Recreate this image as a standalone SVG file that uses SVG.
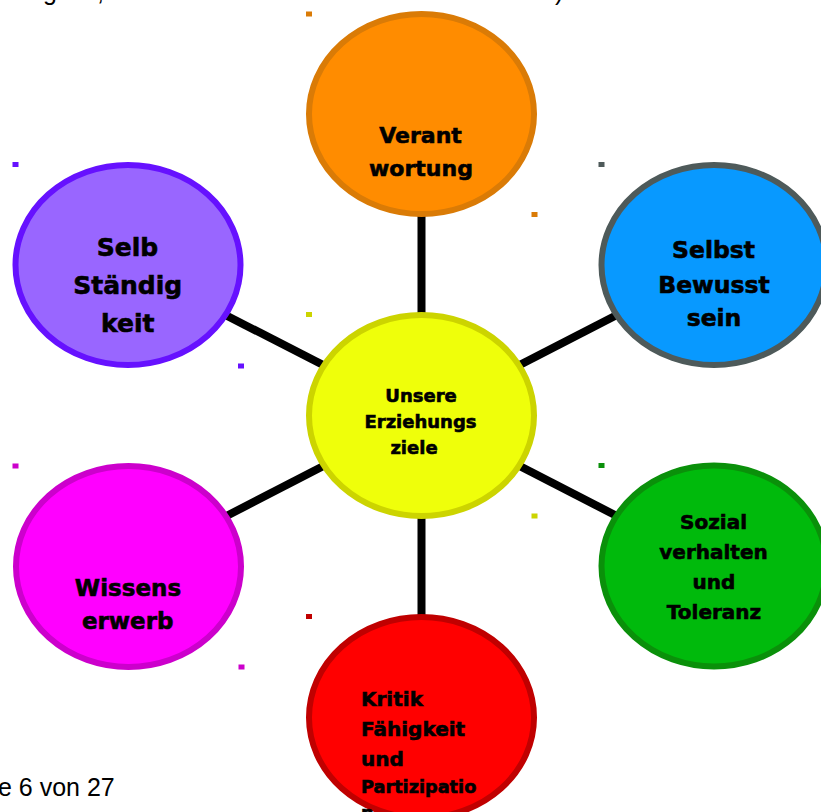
<svg xmlns="http://www.w3.org/2000/svg" width="821" height="812" viewBox="0 0 821 812">
<style>
.lbl{font-family:"DejaVu Sans","Liberation Sans",sans-serif;font-weight:bold;fill:#000;stroke:#000;stroke-width:0.6;text-anchor:middle}
.pg{font-family:"Liberation Sans",Arial,sans-serif;fill:#000;font-size:25px}
.node ellipse{stroke-width:6}
#connectors line{stroke:#000;stroke-width:8}
</style>
<rect width="821" height="812" fill="#fff"/>
<text class="pg" x="43" y="0">g</text>
<text class="pg" x="97" y="0">,</text>
<text class="pg" x="555" y="0">)</text>
<text class="pg" x="-2" y="796">e 6 von 27</text>
<g id="connectors">
<line x1="421.5" y1="415.5" x2="421.5" y2="114"/>
<line x1="421.5" y1="415.5" x2="421.5" y2="717"/>
<line x1="421.5" y1="415.5" x2="128" y2="265"/>
<line x1="421.5" y1="415.5" x2="714" y2="265"/>
<line x1="421.5" y1="415.5" x2="128.5" y2="566.5"/>
<line x1="421.5" y1="415.5" x2="714" y2="566"/>
</g>
<g id="node-verantwortung" class="node">
<ellipse cx="421.5" cy="114" rx="112.5" ry="100" fill="#FF8C00" stroke="#DA7B06"/>
<rect x="306" y="11.5" width="6" height="5" fill="#DA7B06"/>
<rect x="531.5" y="212" width="6" height="5" fill="#DA7B06"/>
<text class="lbl" font-size="22" x="420.5" y="143">Verant</text>
<text class="lbl" font-size="22" x="421" y="176">wortung</text>
</g>
<g id="node-selbstbewusstsein" class="node">
<ellipse cx="714" cy="265" rx="112.5" ry="100" fill="#0899FF" stroke="#4E5A5A"/>
<rect x="598.5" y="162" width="6" height="5" fill="#4E5A5A"/>
<text class="lbl" font-size="23.5" x="713.5" y="258">Selbst</text>
<text class="lbl" font-size="23.5" x="714" y="293">Bewusst</text>
<text class="lbl" font-size="23.5" x="714" y="326">sein</text>
</g>
<g id="node-selbstaendigkeit" class="node">
<ellipse cx="128" cy="265" rx="112.5" ry="100" fill="#9966FF" stroke="#6611FF"/>
<rect x="12.5" y="162" width="6" height="5" fill="#6611FF"/>
<rect x="238" y="363.5" width="6" height="5" fill="#6611FF"/>
<text class="lbl" font-size="25" x="127.5" y="256">Selb</text>
<text class="lbl" font-size="25" x="127.7" y="294">Ständig</text>
<text class="lbl" font-size="25" x="127.7" y="332">keit</text>
</g>
<g id="node-wissenserwerb" class="node">
<ellipse cx="128.5" cy="566.5" rx="112.5" ry="100.5" fill="#FF00FF" stroke="#CC00CC"/>
<rect x="12.5" y="463.5" width="6" height="5" fill="#CC00CC"/>
<rect x="238.5" y="664.5" width="6" height="5" fill="#CC00CC"/>
<text class="lbl" font-size="23" x="128" y="596">Wissens</text>
<text class="lbl" font-size="23" x="127.7" y="629">erwerb</text>
</g>
<g id="node-sozialverhalten" class="node">
<ellipse cx="714" cy="566" rx="112.5" ry="100.5" fill="#00BA0C" stroke="#0A900A"/>
<rect x="598.5" y="463" width="6" height="5" fill="#0A900A"/>
<text class="lbl" font-size="20" x="713.5" y="529">Sozial</text>
<text class="lbl" font-size="20" x="713.5" y="559">verhalten</text>
<text class="lbl" font-size="20" x="714" y="589">und</text>
<text class="lbl" font-size="20" x="714" y="619">Toleranz</text>
</g>
<g id="node-kritikfaehigkeit" class="node">
<ellipse cx="421.5" cy="717.5" rx="112.5" ry="100.5" fill="#FF0000" stroke="#C00000"/>
<rect x="306" y="614" width="6" height="5" fill="#C00000"/>
<text class="lbl" font-size="20" x="361" y="706" style="text-anchor:start">Kritik</text>
<text class="lbl" font-size="20" x="361" y="736" style="text-anchor:start">Fähigkeit</text>
<text class="lbl" font-size="20" x="361" y="766" style="text-anchor:start">und</text>
<text class="lbl" font-size="17.7" x="361" y="793" style="text-anchor:start">Partizipatio</text>
<text class="lbl" font-size="17.7" x="361" y="819" style="text-anchor:start">n</text>
</g>
<g id="node-erziehungsziele" class="node">
<ellipse cx="421.5" cy="415.5" rx="112.5" ry="100.5" fill="#EFFF0A" stroke="#CCD400"/>
<rect x="306" y="312" width="6" height="5" fill="#CCD400"/>
<rect x="531.5" y="513.5" width="6" height="5" fill="#CCD400"/>
<text class="lbl" font-size="18" x="421" y="402">Unsere</text>
<text class="lbl" font-size="18" x="420.5" y="428">Erziehungs</text>
<text class="lbl" font-size="18" x="414" y="454">ziele</text>
</g>
</svg>
